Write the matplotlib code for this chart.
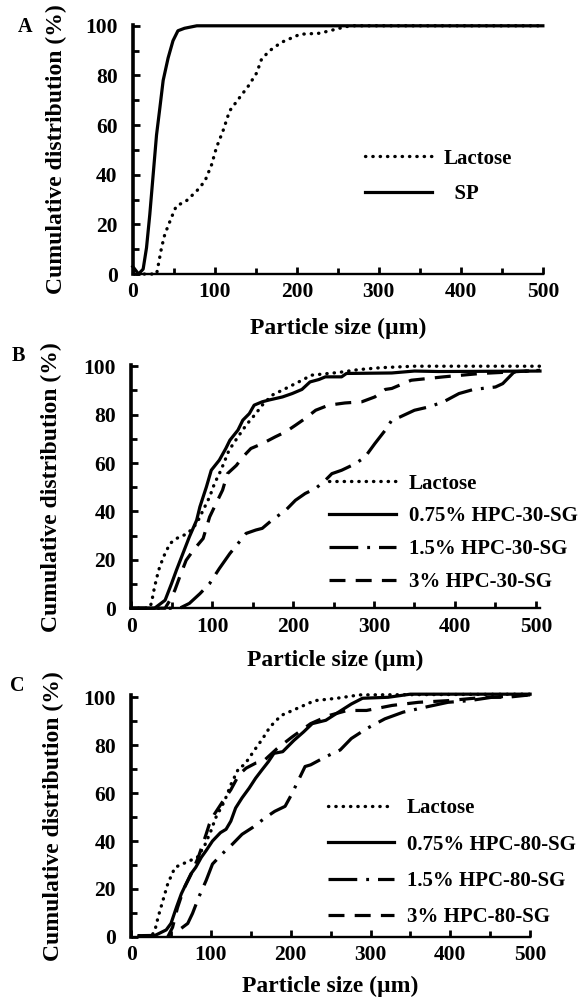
import matplotlib
matplotlib.use("Agg")
import matplotlib.pyplot as plt
from matplotlib.ticker import MultipleLocator

plt.rcParams["font.family"] = ["Liberation Serif", "DejaVu Serif"]
plt.rcParams["font.weight"] = "bold"

# panel A
a_lac_x = [5, 23, 29, 35, 39, 47, 53, 65, 78, 88, 96, 102, 110, 118, 130, 141, 151, 157, 167,
           181, 204, 228, 252, 265, 500]
a_lac_y = [0, 0, 0, 10.6, 16, 22.7, 27.4, 29.4, 33.5, 37.5, 44, 51, 57.7, 65.7, 71, 75.8, 81,
           86.6, 90, 93.3, 96.6, 97, 99, 100, 100]
a_sp_x = [0, 7, 12.6, 16.7, 20.7, 24.8, 28.9, 33, 37, 43, 49, 55, 63, 78, 500]
a_sp_y = [3, 0, 2, 10.6, 24, 40, 56, 67, 78, 87, 94, 98, 99, 100, 100]

# panel B
b_lac_x = [0, 22, 25, 29, 34, 40, 48, 56, 70, 81, 89, 97, 103, 111, 121, 132, 142, 154, 162,
           174, 191, 207, 223, 256, 281, 309, 350, 505]
b_lac_y = [0, 0, 1.9, 8.8, 15.7, 21.2, 26.7, 28.8, 30.9, 35, 40.5, 46, 51.5, 57, 65.3, 70.8,
           75.6, 80.4, 83.9, 88, 90.8, 93.5, 96.3, 97.4, 98.6, 99.4, 100, 100]
b_075_x = [0, 29, 42, 50, 56, 64, 72, 81, 85, 93, 99, 109, 117, 122, 132, 138, 146, 152, 162,
           170, 187, 199, 211, 221, 232, 240, 260, 266, 322, 350, 380, 505]
b_075_y = [0, 0, 3.3, 10.2, 15.7, 22.6, 29.5, 36.4, 41.9, 50.1, 57, 61.2, 66, 69.4, 73.6, 77.7,
           80.4, 83.9, 85.3, 86, 87.3, 88.7, 90.4, 93.5, 94.5, 95.6, 95.6, 97, 97.2, 98, 97.8, 98]
b_15_x = [0, 60, 72, 85, 97, 109, 122, 132, 142, 154, 162, 174, 191, 203, 215, 228, 240, 248,
          260, 277, 289, 301, 314, 322, 332, 350, 368, 386, 405, 423, 450, 459, 473, 505]
b_15_y = [0, 0, 2, 6, 10.2, 16.4, 22.6, 26.7, 30.9, 32.3, 33, 36.4, 40.5, 44.6, 47.4, 49.5,
          52.9, 55.6, 57, 59.7, 62.5, 68, 73.6, 77.7, 79, 81.8, 83.2, 85.3, 88.7, 90.4, 91.4,
          92.8, 97.6, 98.3]
b_3_x = [0, 42, 48, 54, 60, 68, 77, 89, 97, 105, 113, 119, 130, 138, 148, 162, 178, 191, 203,
         215, 228, 244, 264, 285, 301, 314, 322, 346, 386, 432, 468, 505]
b_3_y = [0, 0, 3.3, 7.4, 12.9, 19.8, 24, 28.8, 37.7, 43.3, 48.8, 55.6, 59, 62.5, 66, 68, 70.8,
         72.9, 75.6, 78.4, 81.8, 83.9, 84.8, 85.3, 87.3, 90.4, 90.8, 94.2, 95.6, 97, 97.6, 98.3]

# panel C
c_lac_x = [10, 26, 30, 34, 40, 46, 55, 69, 83, 92, 100, 106, 117, 125, 135, 142, 156, 165, 174,
           188, 207, 230, 258, 286, 500]
c_lac_y = [0.5, 0.5, 2.9, 8.4, 15.3, 22.2, 29, 31.1, 33.2, 38, 44.2, 49.7, 56.6, 63.5, 70.5,
           71.8, 78.6, 82.8, 87.6, 92.4, 95.2, 98.6, 99.6, 101, 101.3]
c_075_x = [10, 30, 44, 50, 57, 63, 69, 75, 81, 88, 94, 102, 112, 119, 125, 131, 139, 148, 156,
           164, 172, 179, 190, 204, 216, 227, 244, 260, 276, 290, 322, 350, 500]
c_075_y = [0.5, 0.6, 2.9, 5.6, 12.5, 18, 22.2, 26.3, 29, 33.2, 36, 40, 43.5, 44.9, 48.3, 53.8,
           58, 62.1, 66.2, 69.7, 73.1, 76.6, 77.3, 82, 85.5, 89, 90.4, 93.8, 97.2, 99.6, 100,
           101.3, 101.3]
c_15_x = [63, 71, 77, 85, 94, 102, 114, 127, 139, 152, 168, 180, 193, 201, 209, 218, 225, 244,
          262, 276, 295, 318, 341, 369, 397, 424, 452, 490, 500]
c_15_y = [3.6, 5.6, 9.8, 16.7, 23.5, 30.4, 34.6, 38.7, 42.8, 45.6, 49.7, 52.4, 54.5, 59.4, 64.9,
          71.1, 71.8, 75.2, 78, 82.8, 86.9, 91, 93.8, 95.9, 97.9, 98.6, 100, 100.8, 101]
c_3_x = [46, 52, 58, 66, 75, 84, 94, 98, 104, 115, 125, 135, 144, 156, 165, 183, 202, 225, 248,
         271, 295, 327, 360, 397, 443, 471, 500]
c_3_y = [0, 4, 12, 20, 26, 33, 42.8, 47, 51, 56.6, 61.4, 67.6, 70.4, 72.5, 73.1, 78.6, 83.5, 89,
         92.4, 94.5, 94.5, 96.6, 97.9, 98.6, 100, 100, 101]

styles = {
    "lac": dict(linestyle=(0, (0.1, 2.1)), dash_capstyle="round", lw=2.4),
    "solid": dict(linestyle="-", lw=2.3),
    "dashdot": dict(linestyle=(0, (9, 2.8, 0.9, 2.8)), lw=2.3),
    "dash": dict(linestyle=(0, (5, 3.2)), lw=2.3),
}

fig = plt.figure(figsize=(5.8, 10.02), dpi=100)
axA = fig.add_axes((0.229, 0.7265, 0.707, 0.2485))
axB = fig.add_axes((0.226, 0.393, 0.705, 0.2425))
axC = fig.add_axes((0.226, 0.065, 0.688, 0.2415))

axA.plot(a_lac_x, a_lac_y, color="k", label="Lactose", **styles["lac"])
axA.plot(a_sp_x, a_sp_y, color="k", label="  SP", **styles["solid"])

axB.plot(b_lac_x, b_lac_y, color="k", label="Lactose", **styles["lac"])
axB.plot(b_075_x, b_075_y, color="k", label="0.75% HPC-30-SG", **styles["solid"])
axB.plot(b_15_x, b_15_y, color="k", label="1.5% HPC-30-SG", **styles["dashdot"])
axB.plot(b_3_x, b_3_y, color="k", label="3% HPC-30-SG", **styles["dash"])

axC.plot(c_lac_x, c_lac_y, color="k", label="Lactose", **styles["lac"])
axC.plot(c_075_x, c_075_y, color="k", label="0.75% HPC-80-SG", **styles["solid"])
axC.plot(c_15_x, c_15_y, color="k", label="1.5% HPC-80-SG", **styles["dashdot"])
axC.plot(c_3_x, c_3_y, color="k", label="3% HPC-80-SG", **styles["dash"])

# ax, letter, xmax, ymax, legend anchor, labelspacing, ylabel x, xlabel y, letter pos
setup = [
    (axA, "A", 500, 100.3, (0.566, 0.392), 0.75, -0.161, -0.177, (-0.263, 0.992)),
    (axB, "B", 505, 100.4, (0.485, 0.31), 0.62, -0.169, -0.173, (-0.275, 1.037)),
    (axC, "C", 500, 101.0, (0.493, 0.306), 0.78, -0.168, -0.161, (-0.284, 1.037)),
]
for ax, letter, xmax, ymax, anchor, lsp, ylx, xly, lpos in setup:
    for ln in ax.get_lines():
        ln.set_clip_on(False)
    ax.set_xlim(0, xmax)
    ax.set_ylim(0, ymax)
    ax.set_xticks([0, 100, 200, 300, 400, 500])
    ax.set_yticks([0, 20, 40, 60, 80, 100])
    ax.xaxis.set_minor_locator(MultipleLocator(50))
    ax.yaxis.set_minor_locator(MultipleLocator(10))
    ax.spines["top"].set_visible(False)
    ax.spines["right"].set_visible(False)
    ax.spines["left"].set_linewidth(2.6)
    ax.spines["bottom"].set_linewidth(1.7)
    ax.tick_params(axis="both", which="both", direction="in", width=2, labelsize=15.5)
    ax.tick_params(axis="both", which="major", length=5)
    ax.tick_params(axis="both", which="minor", length=4)
    ax.tick_params(axis="x", pad=6)
    ax.tick_params(axis="y", pad=11)
    for t in ax.get_xticklabels() + ax.get_yticklabels():
        t.set_fontweight("bold")
    ax.set_xlabel("Particle size (\u00b5m)", fontsize=17, fontweight="bold")
    ax.set_ylabel("Cumulative distribution (%)", fontsize=17, fontweight="bold")
    ax.yaxis.set_label_coords(ylx, 0.5)
    ax.xaxis.set_label_coords(0.5, xly)
    ax.legend(loc="center left", bbox_to_anchor=anchor, frameon=False,
              handlelength=3.2, handletextpad=0.6, labelspacing=lsp, borderpad=0,
              borderaxespad=0, prop={"weight": "bold", "size": 15})
    ax.text(lpos[0], lpos[1], letter, transform=ax.transAxes, fontsize=14.5,
            fontweight="bold", ha="center", va="center")

fig.savefig("out.png", dpi=100)
